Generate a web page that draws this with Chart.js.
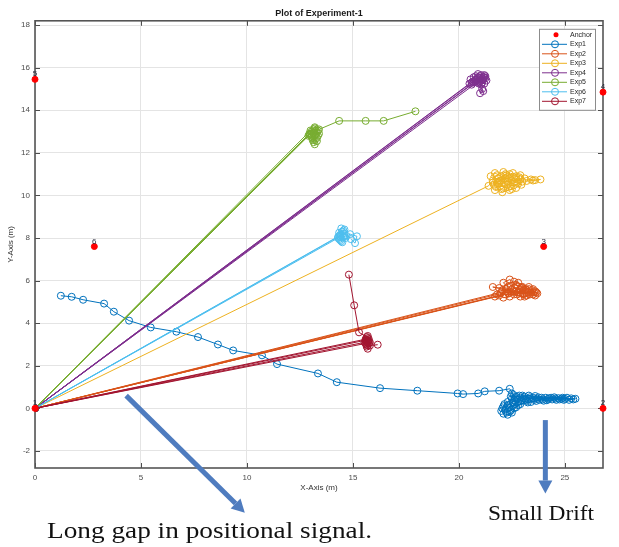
<!DOCTYPE html>
<html>
<head>
<meta charset="utf-8">
<title>Plot of Experiment-1</title>
<script src="https://cdn.jsdelivr.net/npm/chart.js@4.4.0/dist/chart.umd.min.js"></script>
<style>
  body { margin: 0; background: #fff; }
  #wrap { position: relative; width: 619px; height: 547px; }
  .note { position: absolute; font-family: "Liberation Serif", "Times New Roman", serif; color: #111; white-space: nowrap; line-height: 1; transform-origin: 0 0; }
</style>
</head>
<body>
<div id="wrap">
  <canvas id="plot" width="619" height="547"></canvas>
  <div class="note" id="noteGap" style="left:47px; top:519px; font-size:23px;">Long gap in positional signal.</div>
  <div class="note" id="noteDrift" style="left:488px; top:503px; font-size:21px;">Small Drift</div>
</div>
<script>
// anchor positions (m) and their numbers
const anchorPts = [[0, 0], [26.8, 0], [24.0, 7.6], [26.8, 14.85], [0, 15.45], [2.8, 7.6]];
const anchorNames = ['1', '2', '3', '4', '5', '6'];

const xTickValues = [0, 5, 10, 15, 20, 25];
const yTickValues = [-2, 0, 2, 4, 6, 8, 10, 12, 14, 16, 18];

const seriesNames = ['Exp1', 'Exp2', 'Exp3', 'Exp4', 'Exp5', 'Exp6', 'Exp7'];
const seriesColors = ['#0072BD', '#D95319', '#EDB120', '#7E2F8E', '#77AC30', '#4DBEEE', '#A2142F'];

const exp1 = [
  [1.22, 5.29], [1.73, 5.24], [2.27, 5.10], [3.26, 4.92], [3.72, 4.54], [4.44, 4.12], [5.46, 3.80],
  [6.67, 3.60], [7.69, 3.35], [8.63, 3.00], [9.35, 2.72], [10.71, 2.49], [11.42, 2.08], [13.35, 1.64],
  [14.24, 1.23], [16.28, 0.95], [18.04, 0.83], [19.94, 0.70], [20.2, 0.67], [20.91, 0.70], [21.22, 0.80],
  [21.9, 0.83], [22.4, 0.92],
  [22.6, 0.62], [22.5, 0.45], [22.3, 0.3], [22.1, 0.1], [22.0, -0.12], [22.1, -0.25], [22.3, -0.3],
  [22.5, -0.2], [22.7, 0.05], [22.8, 0.3], [22.9, 0.5], [23.1, 0.55], [23.3, 0.45], [23.5, 0.5],
  [23.2, 0.35], [22.9, 0.2], [22.6, 0.0], [22.4, -0.15], [22.8, 0.15], [23.4, 0.3], [23.8, 0.4],
  [24.1, 0.5], [24.4, 0.42], [24.7, 0.48], [25.0, 0.45], [25.3, 0.47], [25.5, 0.45], [25.2, 0.4],
  [24.9, 0.5], [24.5, 0.52], [24.2, 0.44], [23.9, 0.5], [23.6, 0.58], [23.0, 0.6], [22.7, 0.55],
  [22.5, 0.7], [22.6, 0.38], [22.3, 0.15], [22.2, -0.05], [23.3, 0.6], [23.7, 0.45], [24.0, 0.36],
  [24.6, 0.4], [25.1, 0.5],
  [22.45, 0.55], [22.55, 0.25], [22.35, 0.05], [22.25, -0.2], [22.45, -0.1], [22.65, 0.2], [22.75, 0.42],
  [22.95, 0.38], [23.15, 0.42], [23.35, 0.52], [23.55, 0.4], [23.75, 0.52], [23.95, 0.42], [24.15, 0.38],
  [24.35, 0.5], [24.55, 0.46], [24.75, 0.42], [24.95, 0.4], [23.05, 0.48], [22.85, 0.6], [22.65, 0.48],
  [22.15, 0.2], [22.05, 0.0], [23.25, 0.28], [23.65, 0.35], [24.25, 0.47], [24.85, 0.45], [25.4, 0.42]
];
const exp2 = [
  [0, 0], [21.9, 5.3], [22.2, 5.5], [22.5, 5.6], [22.8, 5.45], [23.1, 5.55], [23.4, 5.45], [23.2, 5.3],
  [22.9, 5.25], [22.6, 5.35], [22.3, 5.7], [22.1, 5.9], [22.4, 6.05], [22.7, 5.8], [23.0, 5.7], [23.3, 5.6],
  [23.6, 5.5], [23.7, 5.4], [23.5, 5.35], [22.05, 5.55], [22.35, 5.4], [22.65, 5.65], [22.85, 5.55],
  [23.05, 5.35], [23.25, 5.45], [23.45, 5.55], [23.65, 5.45], [22.0, 5.45],
  [0, 0], [21.8, 5.35], [22.1, 5.2], [22.4, 5.25], [22.7, 5.5], [23.0, 5.4], [23.3, 5.7], [22.6, 5.95],
  [21.9, 5.65], [21.6, 5.7], [22.55, 5.5], [22.25, 5.6], [22.75, 5.35], [22.95, 5.7], [23.15, 5.6],
  [23.35, 5.35], [22.45, 5.75], [22.8, 5.9], [23.55, 5.45], [22.2, 5.35],
  [0, 0], [21.7, 5.25], [22.3, 5.45], [22.9, 5.6], [23.5, 5.6], [23.6, 5.3], [23.1, 5.25], [21.95, 5.4]
];
const exp3 = [
  [0, 0], [21.4, 10.45], [21.6, 10.7], [21.8, 10.95], [22.1, 11.1], [22.4, 11.0], [22.7, 10.9],
  [22.9, 10.75], [22.6, 10.6], [22.3, 10.5], [22.0, 10.3], [21.7, 10.25], [21.9, 10.55], [22.2, 10.8],
  [22.5, 10.7], [22.8, 10.55], [23.0, 10.65], [22.7, 10.35], [22.4, 10.25], [22.1, 10.4], [21.8, 10.6],
  [21.5, 10.9], [21.7, 11.05], [22.0, 10.9], [22.3, 10.65], [22.6, 10.85], [22.9, 10.95], [23.1, 10.8],
  [21.65, 10.5], [21.95, 10.7], [22.25, 10.95], [22.55, 11.05], [22.85, 10.85], [22.45, 10.45],
  [22.15, 10.6], [21.85, 10.8], [22.35, 10.8], [22.65, 10.65], [22.95, 10.5], [21.75, 10.4],
  [22.05, 10.15], [22.5, 10.3], [22.2, 11.0], [21.6, 10.6],
  [23.4, 10.75], [23.6, 10.72], [23.85, 10.75], [23.5, 10.7], [23.2, 10.68]
];
const exp4 = [
  [0, 0], [20.6, 15.2], [20.8, 15.4], [21.0, 15.5], [21.2, 15.55], [21.1, 15.3], [20.9, 15.45],
  [20.7, 15.55], [20.9, 15.7], [21.2, 15.65], [21.3, 15.4], [21.05, 15.2], [20.65, 15.35], [20.9, 15.55],
  [21.1, 15.4], [21.25, 15.6], [20.85, 15.3],
  [0, 0], [20.5, 15.25], [20.75, 15.35], [21.1, 15.0], [21.0, 14.8], [21.15, 14.9], [20.95, 15.25],
  [21.05, 15.65], [21.0, 15.6], [21.25, 15.5], [20.6, 15.3],
  [0, 0], [20.7, 15.3], [20.95, 15.35], [21.15, 15.45], [20.8, 15.6], [20.55, 15.45], [21.2, 15.25],
  [20.8, 15.45], [21.15, 15.55]
];
const exp5 = [
  [0, 0], [12.9, 12.8], [13.05, 13.0], [13.2, 13.15], [13.35, 13.05], [13.25, 12.85], [13.1, 12.7],
  [13.3, 12.55], [13.2, 12.4], [13.0, 12.9], [13.15, 13.1],
  [0, 0], [12.95, 12.85], [13.15, 12.95], [13.4, 12.9], [13.3, 12.7], [13.1, 12.6], [13.3, 12.95],
  [13.2, 12.6], [13.05, 12.75], [13.25, 13.05], [13.35, 12.8], [13.15, 12.5], [12.95, 12.9],
  [0, 0], [13.0, 13.05], [13.2, 13.2], [13.4, 13.1], [14.35, 13.5], [15.6, 13.5], [16.45, 13.5], [17.95, 13.95]
];
const exp6 = [
  [0, 0], [14.3, 8.0], [14.4, 8.15], [14.5, 8.3], [14.6, 8.4], [14.45, 8.45], [14.35, 8.25], [14.55, 8.05],
  [14.4, 7.9], [14.5, 7.8], [14.65, 8.0], [14.4, 8.05], [14.5, 8.2], [14.35, 7.95], [14.55, 8.35],
  [14.45, 7.85], [14.6, 8.1], [14.3, 8.05],
  [0, 0], [14.35, 8.1], [14.6, 8.2], [14.7, 8.1], [14.87, 8.18], [15.19, 8.08], [15.1, 7.76], [14.9, 7.95]
];
const exp7 = [
  [14.81, 6.28], [15.06, 4.84], [15.29, 3.57], [15.65, 3.35], [15.7, 3.2], [15.75, 3.05], [15.65, 2.9],
  [15.7, 2.8], [15.8, 3.1], [15.6, 3.15], [15.65, 3.2], [15.7, 3.3], [15.6, 3.05],
  [0, 0], [15.6, 3.25], [15.7, 3.4], [15.75, 3.25], [15.65, 3.0], [15.75, 3.15], [15.7, 2.95],
  [15.65, 3.1], [15.6, 3.2],
  [0, 0], [15.55, 3.1], [15.7, 3.15], [15.8, 2.95], [16.17, 2.99]
];
const seriesData = [exp1, exp2, exp3, exp4, exp5, exp6, exp7];

const toXY = pts => pts.map(p => ({ x: p[0], y: p[1] }));

Chart.defaults.font.family = '"Liberation Sans", Arial, sans-serif';

const datasets = [{
  label: 'Anchor',
  data: toXY(anchorPts),
  showLine: false,
  pointRadius: 3,
  pointBackgroundColor: '#ff0000',
  pointBorderColor: '#ff0000',
  clip: false,
  order: 0
}];
seriesData.forEach((pts, i) => {
  datasets.push({
    label: seriesNames[i],
    data: toXY(pts),
    showLine: true,
    borderColor: seriesColors[i],
    borderWidth: 1,
    pointRadius: 3.5,
    pointBorderWidth: 1,
    pointBorderColor: seriesColors[i],
    pointBackgroundColor: 'rgba(0,0,0,0)',
    order: 7 - i
  });
});

// annotation arrows, in axis units
const arrows = [
  { from: [4.3, 0.6], to: [9.9, -4.9] },
  { from: [24.08, -0.55], to: [24.08, -4.0] }
];

function drawArrow(ctx, x0, y0, x1, y1) {
  const ang = Math.atan2(y1 - y0, x1 - x0);
  const head = 13, half = 7;
  const bx = x1 - head * Math.cos(ang), by = y1 - head * Math.sin(ang);
  ctx.lineWidth = 5;
  ctx.beginPath();
  ctx.moveTo(x0, y0);
  ctx.lineTo(bx, by);
  ctx.stroke();
  ctx.beginPath();
  ctx.moveTo(x1, y1);
  ctx.lineTo(bx + half * Math.sin(ang), by - half * Math.cos(ang));
  ctx.lineTo(bx - half * Math.sin(ang), by + half * Math.cos(ang));
  ctx.closePath();
  ctx.fill();
}

const framePlugin = {
  id: 'frame',
  beforeDatasetsDraw(chart) {
    const { ctx, chartArea: a, scales: { x, y } } = chart;
    ctx.save();
    ctx.strokeStyle = '#4d4d4d';
    ctx.lineWidth = 1;
    ctx.beginPath();
    x.ticks.forEach(t => {
      const px = Math.round(x.getPixelForValue(t.value)) + 0.5;
      ctx.moveTo(px, a.bottom); ctx.lineTo(px, a.bottom - 5);
      ctx.moveTo(px, a.top); ctx.lineTo(px, a.top + 5);
    });
    y.ticks.forEach(t => {
      const py = Math.round(y.getPixelForValue(t.value)) + 0.5;
      ctx.moveTo(a.left, py); ctx.lineTo(a.left + 5, py);
      ctx.moveTo(a.right, py); ctx.lineTo(a.right - 5, py);
    });
    ctx.stroke();
    ctx.lineWidth = 1.6;
    ctx.strokeStyle = '#555555';
    ctx.strokeRect(a.left, a.top, a.right - a.left, a.bottom - a.top);
    ctx.restore();
  },
  afterDatasetsDraw(chart) {
    const { ctx, chartArea: a, scales: { x, y } } = chart;
    ctx.save();

    // anchor numbers
    ctx.fillStyle = '#2b2b3b';
    ctx.font = '8px "Liberation Sans", Arial, sans-serif';
    ctx.textAlign = 'center';
    ctx.textBaseline = 'alphabetic';
    anchorPts.forEach((p, i) => {
      ctx.fillText(anchorNames[i], x.getPixelForValue(p[0]), y.getPixelForValue(p[1]) - 3);
    });

    // legend box
    const left = a.right - 64, top = a.top + 8, w = 56, h = 81, step = 9.5;
    ctx.fillStyle = '#ffffff';
    ctx.fillRect(left, top, w, h);
    ctx.strokeStyle = '#8c8c8c';
    ctx.lineWidth = 1;
    ctx.strokeRect(left + 0.5, top + 0.5, w, h);
    ctx.font = '7px "Liberation Sans", Arial, sans-serif';
    ctx.textAlign = 'left';
    ctx.textBaseline = 'middle';
    chart.data.datasets.forEach((ds, i) => {
      const ry = top + 6 + i * step;
      if (i === 0) {
        ctx.fillStyle = '#ff0000';
        ctx.beginPath();
        ctx.arc(left + 17, ry, 2.5, 0, Math.PI * 2);
        ctx.fill();
      } else {
        ctx.strokeStyle = ds.borderColor;
        ctx.lineWidth = 1;
        ctx.beginPath();
        ctx.moveTo(left + 3, ry); ctx.lineTo(left + 28, ry);
        ctx.stroke();
        ctx.beginPath();
        ctx.arc(left + 16, ry, 3.5, 0, Math.PI * 2);
        ctx.stroke();
      }
      ctx.fillStyle = '#262626';
      ctx.fillText(ds.label, left + 31, ry);
    });

    // annotation arrows
    ctx.strokeStyle = '#4f7cbf';
    ctx.fillStyle = '#4f7cbf';
    arrows.forEach(ar => {
      drawArrow(ctx,
        x.getPixelForValue(ar.from[0]), y.getPixelForValue(ar.from[1]),
        x.getPixelForValue(ar.to[0]), y.getPixelForValue(ar.to[1]));
    });
    ctx.restore();
  }
};

const axisFont = { size: 8 };

new Chart(document.getElementById('plot').getContext('2d'), {
  type: 'scatter',
  data: { datasets: datasets },
  options: {
    responsive: false,
    animation: false,
    events: [],
    layout: { padding: { left: 0, right: 16, top: 0, bottom: 52 } },
    plugins: {
      legend: { display: false },
      tooltip: { enabled: false },
      title: {
        display: true,
        text: 'Plot of Experiment-1',
        fullSize: false,
        color: '#1a1a1a',
        font: { size: 9, weight: 'bold' },
        padding: { top: 8, bottom: 2 }
      }
    },
    scales: {
      x: {
        type: 'linear',
        min: 0,
        max: 26.8,
        afterFit: s => { s.height = 27; },
        afterBuildTicks: s => { s.ticks = xTickValues.map(v => ({ value: v })); },
        grid: { color: '#e4e4e4', drawTicks: false },
        border: { display: false },
        ticks: { padding: 5, color: '#4d4d4d', font: axisFont },
        title: { display: true, text: 'X-Axis (m)', color: '#333333', font: axisFont, padding: { top: 0, bottom: 2 } }
      },
      y: {
        type: 'linear',
        min: -2.8,
        max: 18.2,
        afterFit: s => { s.width = 35; },
        afterBuildTicks: s => { s.ticks = yTickValues.map(v => ({ value: v })); },
        grid: { color: '#e4e4e4', drawTicks: false },
        border: { display: false },
        ticks: { padding: 5, color: '#4d4d4d', font: axisFont },
        title: { display: true, text: 'Y-Axis (m)', color: '#333333', font: axisFont, padding: { top: 6, bottom: 0 } }
      }
    }
  },
  plugins: [framePlugin]
});

// stretch the two notes to their widths under the plot
[['noteGap', 325], ['noteDrift', 106]].forEach(([id, target]) => {
  const el = document.getElementById(id);
  const w = el.getBoundingClientRect().width;
  el.style.transform = 'scaleX(' + (target / w).toFixed(3) + ')';
});
</script>
</body>
</html>
